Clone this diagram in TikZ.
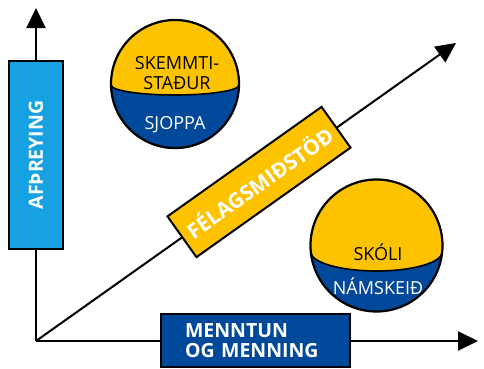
\documentclass[tikz,border=0pt]{standalone}
\usepackage{fontspec}
\setmainfont{Open Sans}
\usetikzlibrary{arrows.meta}
\definecolor{gul}{RGB}{253,195,0}
\definecolor{blar}{RGB}{0,72,153}
\definecolor{ljosblar}{RGB}{22,161,226}
\tikzset{
  axis/.style={line width=2pt,-{Triangle[length=20pt,width=19pt]}},
  label/.style={draw,line width=2pt,font=\fontsize{19.5}{20}\selectfont\bfseries,text=white,inner sep=0pt},
  txt/.style={font=\fontsize{18}{20}\selectfont,align=center,inner sep=0pt}
}
\begin{document}
\begin{tikzpicture}[x=1pt,y=1pt]
\useasboundingbox (0,0) rectangle (484,368);
\coordinate (O) at (36,27);
\coordinate (ytip) at (36,360);
\coordinate (xtip) at (478,27);
\coordinate (dtip) at (456,325);
\draw[axis] (O) -- (ytip);
\draw[axis] (O) -- (xtip);
\draw[axis] (O) -- (dtip);
% boxes on the axes
\node[label,fill=ljosblar,rotate=90,minimum width=188,minimum height=54] (afthreying) at (36,213) {AFÞREYING};
\node[label,fill=blar,minimum width=189,minimum height=53,text width=141,align=left,inner xsep=24] (menntun) at (255.5,27.5) {MENNTUN\\OG MENNING};
\node[label,fill=gul,rotate=35.4,minimum width=189,minimum height=50,font=\fontsize{21}{22}\selectfont\bfseries] (felag) at (259,186) {FÉLAGSMIÐSTÖÐ};
% upper sphere
\fill[gul] (175,284) circle (64);
\fill[blar] (111,283) arc[start angle=180,end angle=360,radius=64]
  arc[start angle=0,end angle=-180,x radius=64,y radius=10];
\draw[line width=1.6pt] (111,283) arc[start angle=180,end angle=360,x radius=64,y radius=10];
\draw[line width=2.2pt] (175,284) circle (64);
\node[txt] (skemmti) at (177,295) {SKEMMTI-\\STAÐUR};
\node[txt,text=white] (sjoppa) at (175,243) {SJOPPA};
% lower sphere
\fill[gul] (376.5,122.5) circle (66);
\fill[blar] (310.8,116) arc[start angle=185.65,end angle=354.35,radius=66]
  arc[start angle=0,end angle=-180,x radius=65.7,y radius=19];
\draw[line width=1.6pt] (310.8,116) arc[start angle=180,end angle=360,x radius=65.7,y radius=19];
\draw[line width=2.2pt] (376.5,122.5) circle (66);
\node[txt] (skoli) at (378,116) {SKÓLI};
\node[txt,text=white] (namskeid) at (378,82) {NÁMSKEIÐ};
\end{tikzpicture}
\end{document}
